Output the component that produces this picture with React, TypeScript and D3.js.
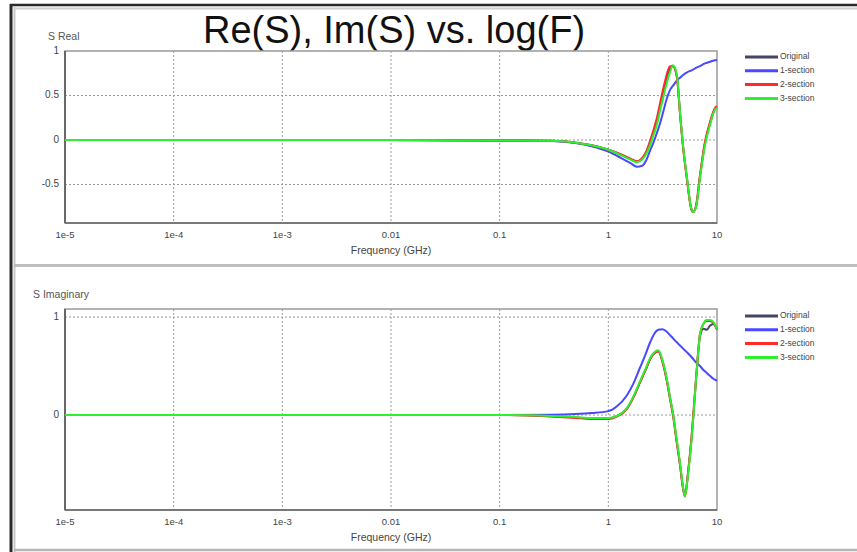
import React from 'react';
import * as d3 from 'd3';

// frequency grids (GHz)
const reFreq = [0.00001, 0.01, 0.1, 0.3, 0.5, 0.7, 1.0, 1.3, 1.6, 1.83, 2.05, 2.25, 2.42, 2.6, 2.8, 3.0, 3.19, 3.42, 3.69, 3.94, 4.28, 4.57, 4.87, 5.3, 5.77, 6.01, 6.41, 6.97, 7.75, 8.61, 9.58, 10];
const imFreq = [0.00001, 0.01, 0.1, 0.3, 0.5, 0.7, 1.0, 1.2, 1.48, 1.7, 1.95, 2.2, 2.42, 2.65, 2.88, 3.15, 3.45, 3.7, 3.96, 4.25, 4.56, 4.85, 5.07, 5.4, 5.85, 6.5, 6.97, 7.5, 8.04, 8.6, 9.25, 10];

// S real
const reOriginal = [0, 0, -0.005, -0.01, -0.03, -0.06, -0.11, -0.165, -0.215, -0.245, -0.21, -0.13, -0.03, 0.08, 0.21, 0.38, 0.52, 0.68, 0.8, 0.835, 0.71, 0.3, -0.07, -0.44, -0.76, -0.81, -0.75, -0.41, -0.04, 0.18, 0.35, 0.37];
const re1Section = [0, 0, -0.005, -0.012, -0.035, -0.07, -0.13, -0.2, -0.26, -0.3, -0.29, -0.22, -0.12, -0.03, 0.08, 0.19, 0.31, 0.45, 0.56, 0.61, 0.67, 0.7, 0.73, 0.76, 0.78, 0.79, 0.81, 0.83, 0.86, 0.88, 0.895, 0.9];
const re2Section = [0, 0, -0.005, -0.01, -0.03, -0.06, -0.11, -0.16, -0.21, -0.24, -0.2, -0.12, -0.01, 0.11, 0.25, 0.42, 0.57, 0.72, 0.83, 0.83, 0.7, 0.29, -0.08, -0.45, -0.77, -0.81, -0.74, -0.4, -0.02, 0.2, 0.36, 0.38];
const re3Section = [0, 0, -0.005, -0.01, -0.03, -0.06, -0.11, -0.17, -0.22, -0.25, -0.22, -0.15, -0.06, 0.05, 0.17, 0.33, 0.47, 0.62, 0.76, 0.84, 0.73, 0.31, -0.06, -0.43, -0.76, -0.81, -0.76, -0.43, -0.06, 0.17, 0.34, 0.36];

// S imaginary
const imOriginal = [0, 0, 0, -0.012, -0.025, -0.035, -0.035, -0.012, 0.065, 0.18, 0.33, 0.46, 0.57, 0.63, 0.65, 0.55, 0.36, 0.17, -0.01, -0.26, -0.5, -0.73, -0.83, -0.6, -0.22, 0.44, 0.8, 0.88, 0.87, 0.91, 0.93, 0.88];
const im1Section = [0, 0, 0, 0.003, 0.01, 0.02, 0.04, 0.09, 0.2, 0.32, 0.48, 0.62, 0.74, 0.83, 0.87, 0.875, 0.85, 0.815, 0.78, 0.745, 0.71, 0.68, 0.66, 0.63, 0.59, 0.53, 0.5, 0.46, 0.43, 0.4, 0.37, 0.35];
const im2Section = [0, 0, 0, -0.015, -0.03, -0.04, -0.04, -0.015, 0.06, 0.18, 0.33, 0.46, 0.57, 0.63, 0.65, 0.54, 0.35, 0.16, -0.02, -0.27, -0.5, -0.74, -0.83, -0.6, -0.2, 0.46, 0.83, 0.93, 0.96, 0.96, 0.94, 0.87];
const im3Section = [0, 0, 0, -0.01, -0.02, -0.03, -0.03, -0.01, 0.07, 0.19, 0.34, 0.47, 0.58, 0.64, 0.66, 0.56, 0.37, 0.18, 0.0, -0.24, -0.48, -0.72, -0.83, -0.62, -0.24, 0.44, 0.82, 0.93, 0.97, 0.97, 0.95, 0.88];

const seriesNames = ['Original', '1-section', '2-section', '3-section'];
const seriesColors = ['#454565', '#4848ff', '#ff2a2a', '#2ef02e'];
const xTicks = [1e-5, 1e-4, 1e-3, 0.01, 0.1, 1, 10];
const xTickLabels = ['1e-5', '1e-4', '1e-3', '0.01', '0.1', '1', '10'];
const reTicks = [1, 0.5, 0, -0.5];
const imTicks = [1, 0];

const W = 857;
const H = 552;
const font = 'Arial, "Liberation Sans", sans-serif';

type PanelProps = {
  top: number;
  bottom: number;
  domain: [number, number];
  ticks: number[];
  gridTicks: number[];
  freq: number[];
  series: number[][];
  yLabel: string;
  yLabelX: number;
  legendTop: number;
};

function Panel(props: PanelProps) {
  const left = 65;
  const right = 717;
  const x = d3.scaleLog().domain([1e-5, 10]).range([left, right]);
  const y = d3.scaleLinear().domain(props.domain).range([props.bottom, props.top]);

  const line = d3.line<number>()
    .x((_, i) => x(props.freq[i]))
    .y(d => y(d))
    .curve(d3.curveMonotoneX);

  return (
    <g>
      <text x={props.yLabelX} y={props.top - 11} fontSize={10.5} fill="#555" fontFamily={font}>{props.yLabel}</text>

      {/* grid */}
      {xTicks.slice(1, -1).map(t => (
        <line key={'gx' + t} x1={x(t)} x2={x(t)} y1={props.top} y2={props.bottom}
          stroke="#9a9a9a" strokeDasharray="2,2" />
      ))}
      {props.gridTicks.map(t => (
        <line key={'gy' + t} x1={left} x2={right} y1={y(t)} y2={y(t)}
          stroke="#9a9a9a" strokeDasharray="2,2" />
      ))}

      {/* frame */}
      <rect x={left} y={props.top} width={right - left} height={props.bottom - props.top}
        fill="none" stroke="#a0a0a0" strokeWidth={1.6} />
      <line x1={left} x2={left} y1={props.top} y2={props.bottom} stroke="#555" strokeWidth={1.6} />
      <line x1={left} x2={right} y1={props.bottom} y2={props.bottom} stroke="#666" strokeWidth={1.6} />

      {/* curves */}
      {props.series.map((s, i) => (
        <path key={seriesNames[i]} d={line(s) || ''} fill="none"
          stroke={seriesColors[i]} strokeWidth={2} strokeLinejoin="round" />
      ))}

      {/* y ticks */}
      {props.ticks.map(t => (
        <text key={'ty' + t} x={59} y={y(t)} textAnchor="end" dominantBaseline="middle"
          fontSize={10} fill="#444" fontFamily={font}>{String(t)}</text>
      ))}

      {/* x ticks */}
      {xTicks.map((t, i) => (
        <text key={'tx' + t} x={x(t)} y={props.bottom + 15} textAnchor="middle"
          fontSize={9.5} fill="#444" fontFamily={font}>{xTickLabels[i]}</text>
      ))}
      <text x={x(0.01)} y={props.bottom + 31} textAnchor="middle" fontSize={10.5}
        fill="#444" fontFamily={font}>Frequency (GHz)</text>

      {/* legend */}
      {seriesNames.map((n, i) => (
        <g key={'lg' + n} transform={`translate(745, ${props.legendTop + i * 13.8})`}>
          <line x1={0} x2={33} y1={0} y2={0} stroke={seriesColors[i]} strokeWidth={3} />
          <text x={35} y={0} dominantBaseline="middle" fontSize={8.5} fill="#444"
            fontFamily={font}>{n}</text>
        </g>
      ))}
    </g>
  );
}

export default function App() {
  return (
    <div>
      <style>{'body{margin:0}'}</style>
      <svg width={W} height={H} style={{ display: 'block', background: '#fff' }}>
        {/* window frame */}
        <line x1={11} x2={11} y1={4} y2={H} stroke="#2a2a2a" strokeWidth={3} />
        <line x1={10} x2={W} y1={5} y2={5} stroke="#2a2a2a" strokeWidth={2.5} />
        <line x1={14.5} x2={14.5} y1={7} y2={H} stroke="#c8c8c8" strokeWidth={2} />
        <line x1={14} x2={W} y1={8.5} y2={8.5} stroke="#d0d0d0" strokeWidth={2} />
        <line x1={14} x2={W} y1={265.5} y2={265.5} stroke="#bdbdbd" strokeWidth={3} />
        <line x1={14} x2={W} y1={550} y2={550} stroke="#b5b5b5" strokeWidth={2.5} />

        <text x={394} y={43} textAnchor="middle" fontSize={38} fill="#111" fontFamily={font}>
          Re(S), Im(S) vs. log(F)
        </text>

        <Panel top={51} bottom={223} domain={[-0.933, 1]} ticks={reTicks} gridTicks={[0.5, 0, -0.5]}
          freq={reFreq} series={[reOriginal, re1Section, re2Section, re3Section]}
          yLabel="S Real" yLabelX={48} legendTop={57} />
        <Panel top={309} bottom={510} domain={[-0.969, 1.082]} ticks={imTicks} gridTicks={[1, 0]}
          freq={imFreq} series={[imOriginal, im1Section, im2Section, im3Section]}
          yLabel="S Imaginary" yLabelX={33} legendTop={316} />
      </svg>
    </div>
  );
}
